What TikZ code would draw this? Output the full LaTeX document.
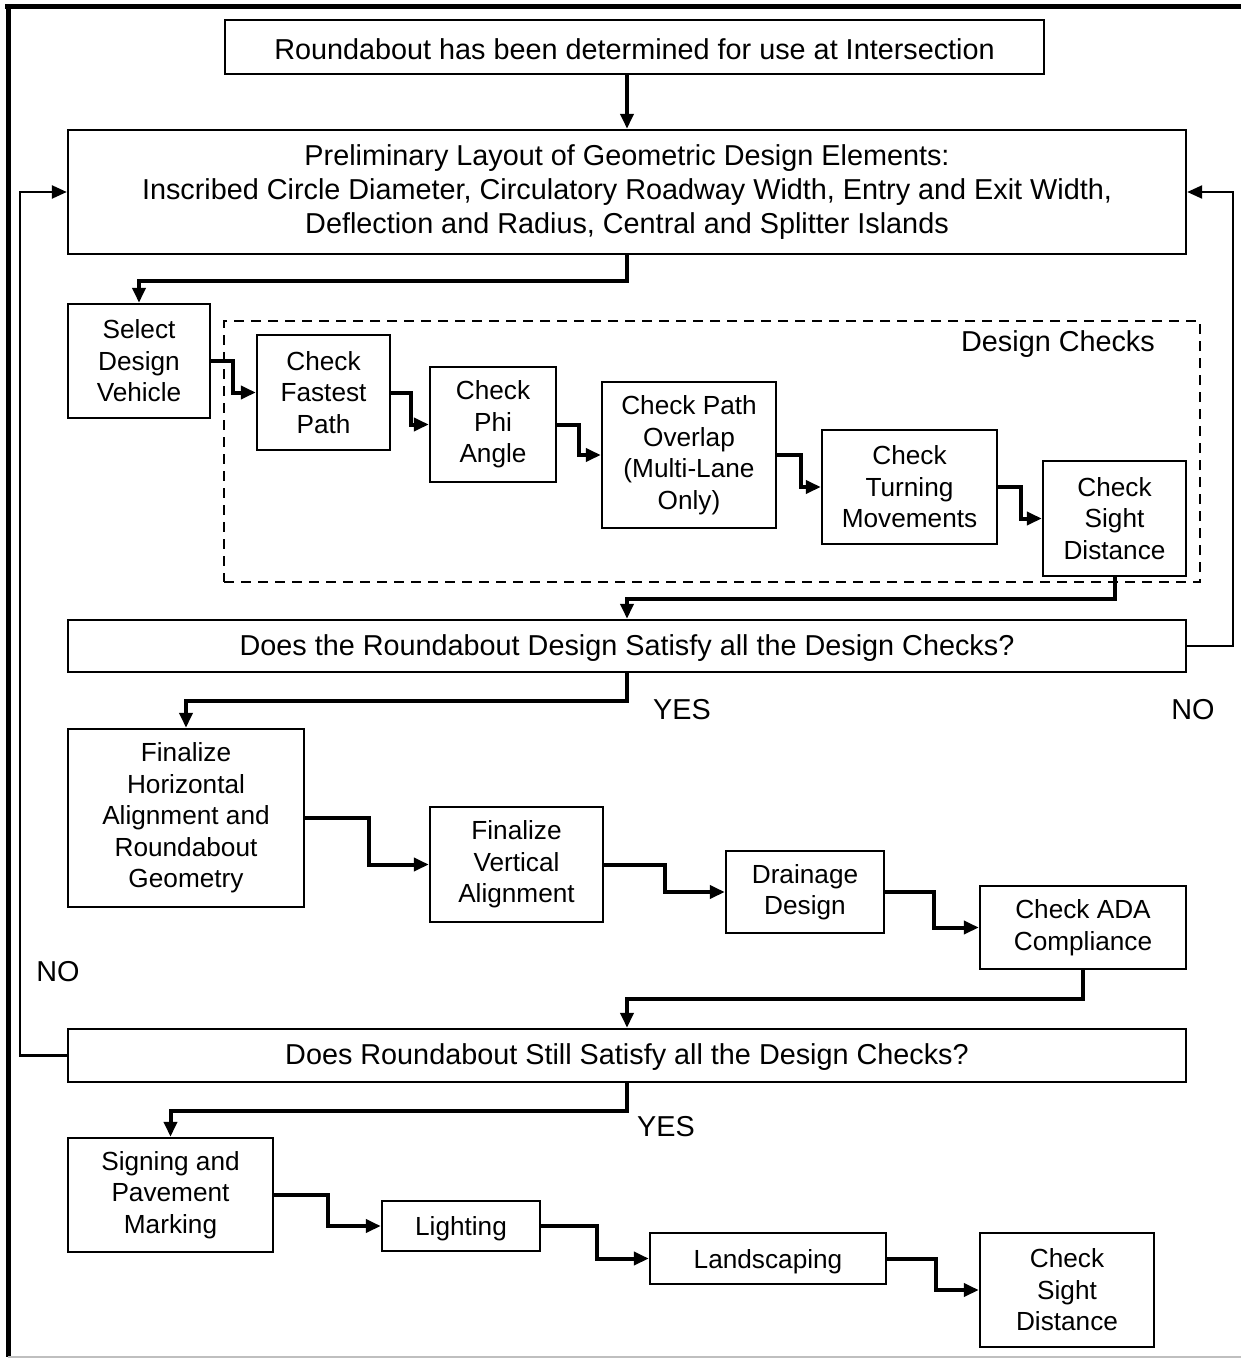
\documentclass[tikz,border=0pt]{standalone}
\usepackage{fontspec}
\setmainfont{Liberation Sans}
\usetikzlibrary{arrows.meta,positioning}

\begin{document}
\begin{tikzpicture}[
  x=0.5pt, y=-0.5pt,
  font=\fontsize{14.4}{15.8}\selectfont,
  box/.style={draw, line width=1.2pt, align=center, inner sep=0pt, fill=white,
    font=\fontsize{13.1}{15.75}\selectfont, execute at begin node={\rule{0pt}{12.4pt}}},
  wide/.style={box, font=\fontsize{14.4}{17.2}\selectfont, execute at begin node={\rule{0pt}{12.2pt}}},
  flow/.style={-{Triangle[length=7.5pt,width=6.5pt]}, line width=2pt},
  back/.style={flow, line width=1.2pt},
  tag/.style={inner sep=0pt},
  group/.style={draw, line width=1pt, dash pattern=on 5pt off 3.5pt}
]
\useasboundingbox (0,0) rectangle (1241,1359);
\draw[line width=2.5pt] (5,7) -- (1241,7);
\draw[line width=2.5pt] (8,5.8) -- (8,1357);
\draw[black!25, line width=0.6pt] (8,1357) -- (1241,1357);

\node[group, minimum width=488pt, minimum height=130.5pt] (checks) at (712,451.5) {};
\node[tag] (checkslabel) at (1058,344) {Design Checks};

\node[wide, minimum width=409.5pt, minimum height=27pt] (start) at (634.5,47) {Roundabout has been determined for use at Intersection};
\node[wide, minimum width=559pt, minimum height=62pt] (prelim) at (627,192) {Preliminary Layout of Geometric Design Elements:\\Inscribed Circle Diameter, Circulatory Roadway Width, Entry and Exit Width,\\Deflection and Radius, Central and Splitter Islands};

\node[box, minimum width=71pt, minimum height=57pt] (select) at (139,361) {Select\\Design\\Vehicle};
\node[box, minimum width=66.5pt, minimum height=57.5pt] (fastest) at (323.5,392.5) {Check\\Fastest\\Path};
\node[box, minimum width=63pt, minimum height=57.5pt] (phi) at (493,424.5) {Check\\Phi\\Angle};
\node[box, minimum width=87pt, minimum height=73pt] (overlap) at (689,455) {Check Path\\Overlap\\(Multi-Lane\\Only)};
\node[box, minimum width=87.5pt, minimum height=57pt] (turning) at (909.5,487) {Check\\Turning\\Movements};
\node[box, minimum width=71.5pt, minimum height=57.5pt] (sight) at (1114.5,518.5) {Check\\Sight\\Distance};

\node[wide, minimum width=559pt, minimum height=26pt] (decideone) at (627,646) {Does the Roundabout Design Satisfy all the Design Checks?};

\node[box, minimum width=118pt, minimum height=89pt] (finalh) at (186,818) {Finalize\\Horizontal\\Alignment and\\Roundabout\\Geometry};
\node[box, minimum width=86.5pt, minimum height=57.5pt] (finalv) at (516.5,864.5) {Finalize\\Vertical\\Alignment};
\node[box, minimum width=79pt, minimum height=41pt] (drainage) at (805,892) {Drainage\\Design};
\node[box, minimum width=103pt, minimum height=41.5pt] (ada) at (1083,927.5) {Check ADA\\Compliance};

\node[wide, minimum width=559pt, minimum height=26.5pt] (decidetwo) at (627,1055.5) {Does Roundabout Still Satisfy all the Design Checks?};

\node[box, minimum width=102.5pt, minimum height=57pt] (signing) at (170.5,1195) {Signing and\\Pavement\\Marking};
\node[box, minimum width=79pt, minimum height=25pt] (lighting) at (461,1226) {Lighting};
\node[box, minimum width=118pt, minimum height=25.5pt] (landscaping) at (768,1258.5) {Landscaping};
\node[box, minimum width=87pt, minimum height=57pt] (sighttwo) at (1067,1290) {Check\\Sight\\Distance};

\node[tag] (yesone) at (682,710) {YES};
\node[tag] (noone) at (1193,710) {NO};
\node[tag] (notwo) at (58,972) {NO};
\node[tag] (yestwo) at (666,1127) {YES};

\draw[flow] (start.south -| prelim.north) -- (prelim.north);
\draw[flow] (prelim.south) -- ++(0,26) -| (select.north);
\draw[flow] (select.east) -- ++(22,0) |- (fastest.west);
\draw[flow] (fastest.east) -- ++(20,0) |- (phi.west);
\draw[flow] (phi.east) -- ++(22,0) |- (overlap.west);
\draw[flow] (overlap.east) -- ++(24,0) |- (turning.west);
\draw[flow] (turning.east) -- ++(23,0) |- (sight.west);
\draw[flow] (sight.south) -- ++(0,22) -| (decideone.north);
\draw[flow] (decideone.south) -- ++(0,28) -| (finalh.north);
\draw[back] (decideone.east) -- ++(46,0) |- (prelim.east);
\draw[flow] (finalh.east) -- ++(64,0) |- (finalv.west);
\draw[flow] (finalv.east) -- ++(61,0) |- (drainage.west);
\draw[flow] (drainage.east) -- ++(49,0) |- (ada.west);
\draw[flow] (ada.south) -- ++(0,29) -| (decidetwo.north);
\draw[back] (decidetwo.west) -- ++(-47,0) |- (prelim.west);
\draw[flow] (decidetwo.south) -- ++(0,28) -| (signing.north);
\draw[flow] (signing.east) -- ++(54,0) |- (lighting.west);
\draw[flow] (lighting.east) -- ++(56,0) |- (landscaping.west);
\draw[flow] (landscaping.east) -- ++(49,0) |- (sighttwo.west);
\end{tikzpicture}
\end{document}
